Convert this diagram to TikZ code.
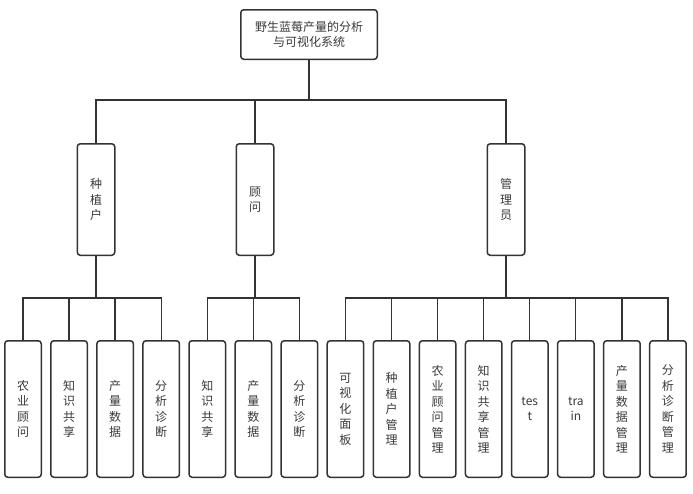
\documentclass[tikz,border=0pt]{standalone}
\usepackage{fontspec}
\setmainfont{Noto Sans CJK SC}
\usetikzlibrary{positioning}
\definecolor{ln}{HTML}{333333}
\definecolor{tx}{HTML}{3A3A3A}

\begin{document}
\begin{tikzpicture}[x=1pt,y=-1pt,font=\fontsize{12}{15.5}\selectfont,
  box/.style={draw=ln,line width=1.5pt,rounded corners=3pt,fill=white,text=tx,align=center,inner sep=1pt},
  sysbox/.style={box,minimum width=136.5pt,minimum height=49.5pt},
  role/.style={box,minimum width=37.5pt,minimum height=111.5pt},
  leaf/.style={box,minimum width=36.5pt,minimum height=136.5pt},
  link/.style={draw=ln,line width=1.3pt}]
  \useasboundingbox (0,0) rectangle (693,493);
  % top level
  \node[sysbox](sys) at (309,34.5){野生蓝莓产量的分析\\与可视化系统};
  % roles
  \node[role](farmer) at (96,199.5){种\\植\\户};
  \node[role](advisor) at (255,199.5){顾\\问};
  \node[role](admin) at (506,199.5){管\\理\\员};
  % functions
  \node[leaf](f1) at (23,409){农\\业\\顾\\问};
  \node[leaf,right=8.07pt of f1](f2){知\\识\\共\\享};
  \node[leaf,right=8.07pt of f2](f3){产\\量\\数\\据};
  \node[leaf,right=8.07pt of f3](f4){分\\析\\诊\\断};
  \node[leaf,right=8.07pt of f4](a1){知\\识\\共\\享};
  \node[leaf,right=8.07pt of a1](a2){产\\量\\数\\据};
  \node[leaf,right=8.07pt of a2](a3){分\\析\\诊\\断};
  \node[leaf,right=8.07pt of a3](m1){可\\视\\化\\面\\板};
  \node[leaf,right=8.07pt of m1](m2){种\\植\\户\\管\\理};
  \node[leaf,right=8.07pt of m2](m3){农\\业\\顾\\问\\管\\理};
  \node[leaf,right=8.07pt of m3](m4){知\\识\\共\\享\\管\\理};
  \node[leaf,right=8.07pt of m4](m5){tes\\t};
  \node[leaf,right=8.07pt of m5](m6){tra\\in};
  \node[leaf,right=8.07pt of m6](m7){产\\量\\数\\据\\管\\理};
  \node[leaf,right=8.07pt of m7](m8){分\\析\\诊\\断\\管\\理};
  % links
  \foreach \r in {farmer,advisor,admin}
    \draw[link](sys.south)--++(0,40)-|(\r.north);
  \foreach \c in {f1,f2,f3,f4}
    \draw[link](farmer.south)--++(0,42)-|(\c.north);
  \foreach \c in {a1,a2,a3}
    \draw[link](advisor.south)--++(0,42)-|(\c.north);
  \foreach \c in {m1,m2,m3,m4,m5,m6,m7,m8}
    \draw[link](admin.south)--++(0,42)-|(\c.north);
\end{tikzpicture}
\end{document}
